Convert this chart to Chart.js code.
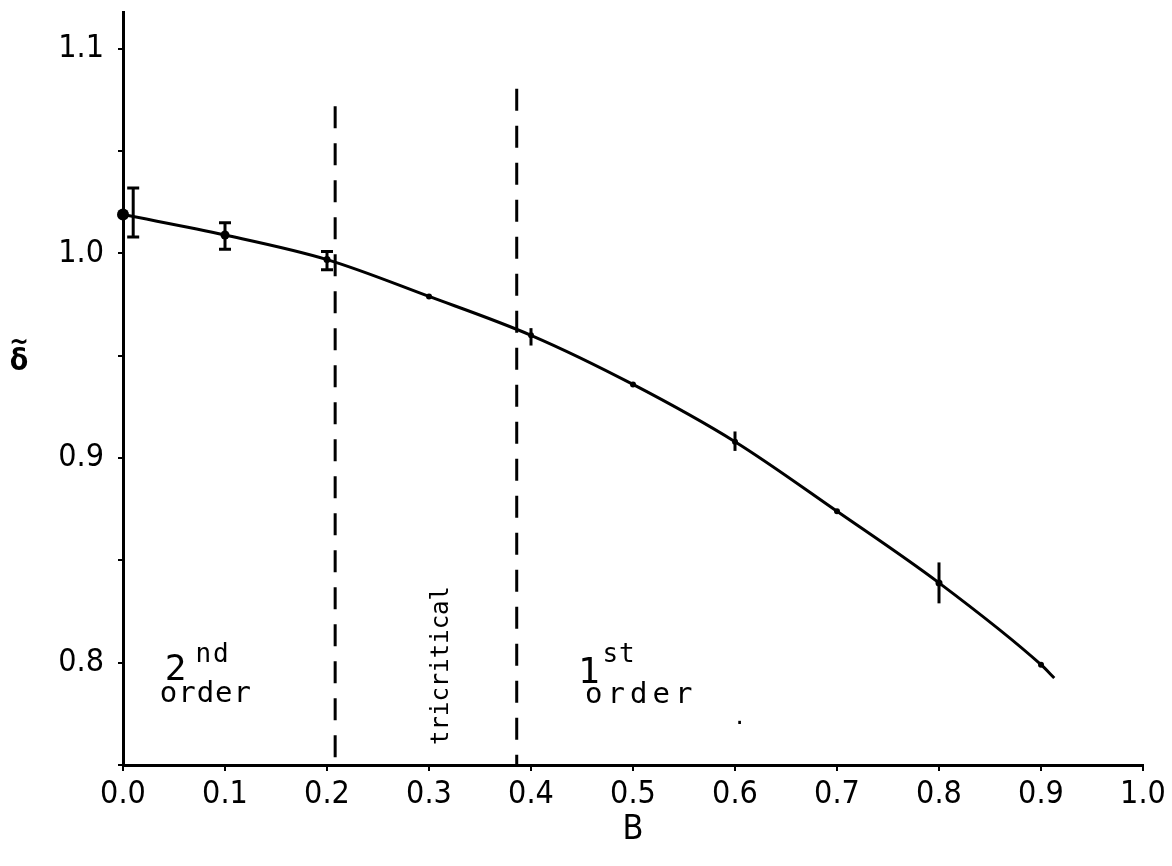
<!DOCTYPE html>
<html>
<head>
<meta charset="utf-8">
<script src="https://cdn.jsdelivr.net/npm/chart.js@4/dist/chart.umd.min.js"></script>
<style>
  html, body { margin: 0; padding: 0; background: #fff; }
  #wrap { width: 1172px; height: 866px; }
</style>
</head>
<body>
<div id="wrap"><canvas id="chart" width="1172" height="866"></canvas></div>
<script>
// measured points (B, sigma~)
const bValues = [0.0, 0.1, 0.2, 0.3, 0.4, 0.5, 0.6, 0.7, 0.8, 0.9]
const sigmaValues = [1.019, 1.009, 0.997, 0.979, 0.960, 0.936, 0.908, 0.874, 0.839, 0.799]
const pointSizes = [6, 4.5, 3.5, 3, 3, 3, 3, 3, 3.5, 3]

// error bars (null = no bar drawn)
const errB = [0.01, 0.1, 0.2, null, 0.4, null, 0.6, null, 0.8, null]
const errLow = [1.008, 1.002, 0.992, null, 0.955, null, 0.9035, null, 0.829, null]
const errHigh = [1.032, 1.015, 1.001, null, 0.9635, null, 0.913, null, 0.849, null]
const errCapped = [true, true, true, false, false, false, false, false, false, false]

// fitted curve
const curveB = [0.0, 0.1, 0.2, 0.3, 0.4, 0.5, 0.6, 0.7, 0.8, 0.9, 0.913]
const curveSigma = [1.019, 1.009, 0.997, 0.979, 0.960, 0.936, 0.908, 0.874, 0.839, 0.799, 0.7925]

// phase boundaries
const boundaryB = [0.208, 0.386]
const boundaryTop = [1.072, 1.0805]

const xTicks = [0.0, 0.1, 0.2, 0.3, 0.4, 0.5, 0.6, 0.7, 0.8, 0.9, 1.0]
const yTicks = [0.75, 0.8, 0.85, 0.9, 0.95, 1.0, 1.05, 1.1]

const tickFont = '"DejaVu Sans Condensed", "DejaVu Sans", sans-serif'
const handFont = '"DejaVu Sans Mono", monospace'

const boundaryDatasets = boundaryB.map((b, i) => ({
    type: "line",
    data: [{ x: b, y: boundaryTop[i] }, { x: b, y: 0.75 }],
    borderColor: "#000",
    borderWidth: 3,
    borderDash: [22, 15],
    pointRadius: 0,
    fill: false,
}))

const extrasPlugin = {
    id: "extras",
    afterDatasetsDraw(chart) {
        const ctx = chart.ctx
        const xs = chart.scales.x
        const ys = chart.scales.y

        // error bars
        ctx.save()
        ctx.strokeStyle = "#000"
        ctx.lineWidth = 3
        errB.forEach((b, i) => {
            if (b === null) return
            const px = xs.getPixelForValue(b)
            const top = ys.getPixelForValue(errHigh[i])
            const bot = ys.getPixelForValue(errLow[i])
            ctx.beginPath()
            ctx.moveTo(px, top)
            ctx.lineTo(px, bot)
            if (errCapped[i]) {
                ctx.moveTo(px - 6, top)
                ctx.lineTo(px + 6, top)
                ctx.moveTo(px - 6, bot)
                ctx.lineTo(px + 6, bot)
            }
            ctx.stroke()
        })
        ctx.restore()

        // handwritten labels
        ctx.save()
        ctx.fillStyle = "#000"
        ctx.textBaseline = "alphabetic"
        const put = (text, b, s, size, spacing) => {
            ctx.font = `${size}px ${handFont}`
            ctx.letterSpacing = spacing || "0px"
            ctx.fillText(text, xs.getPixelForValue(b), ys.getPixelForValue(s))
        }
        put("2", 0.041, 0.7915, 36)
        put("nd", 0.071, 0.8005, 26, "2px")
        put("order", 0.036, 0.7808, 29, "1px")
        put("1", 0.446, 0.790, 36)
        put("st", 0.470, 0.8005, 26, "1px")
        put("order", 0.453, 0.7805, 29, "5px")
        put(".", 0.598, 0.770, 22)

        ctx.save()
        ctx.translate(xs.getPixelForValue(0.319), ys.getPixelForValue(0.7598))
        ctx.rotate(-Math.PI / 2)
        ctx.font = `24px ${handFont}`
        ctx.letterSpacing = "0px"
        ctx.fillText("tricritical", 0, 0)
        ctx.restore()

        // axis titles
        ctx.letterSpacing = "0px"
        ctx.textAlign = "center"
        ctx.textBaseline = "middle"
        ctx.font = `34px ${tickFont}`
        ctx.fillText("B", xs.getPixelForValue(0.5), 830)
        const ly = ys.getPixelForValue(0.95)
        ctx.font = `bold 30px ${tickFont}`
        ctx.fillText("δ", 19, ly + 6)
        ctx.font = `bold 26px ${tickFont}`
        ctx.fillText("~", 19, ly - 13)
        ctx.restore()
    },
}

const ctx = document.getElementById("chart").getContext("2d")
const chart = new Chart(ctx, {
    type: "scatter",
    data: {
        datasets: [
            {
                type: "line",
                data: curveB.map((b, i) => ({ x: b, y: curveSigma[i] })),
                borderColor: "#000",
                borderWidth: 3,
                pointRadius: 0,
                cubicInterpolationMode: "monotone",
                fill: false,
            },
            {
                type: "scatter",
                data: bValues.map((b, i) => ({ x: b, y: sigmaValues[i] })),
                backgroundColor: "#000",
                borderColor: "#000",
                pointRadius: pointSizes,
                pointBorderWidth: 0,
                clip: false,
            },
            ...boundaryDatasets,
        ],
    },
    options: {
        responsive: false,
        animation: false,
        layout: { padding: { top: 12, right: 29, left: 0, bottom: 0 } },
        plugins: {
            legend: { display: false },
            tooltip: { enabled: false },
        },
        scales: {
            x: {
                type: "linear",
                min: 0,
                max: 1,
                afterFit: (scale) => {
                    scale.height = 101
                    scale.paddingLeft = 0
                    scale.paddingRight = 0
                },
                afterBuildTicks: (scale) => {
                    scale.ticks = xTicks.map((v) => ({ value: v }))
                },
                ticks: {
                    color: "#000",
                    font: { family: tickFont, size: 32 },
                    padding: 4,
                    maxRotation: 0,
                    callback: (v) => v.toFixed(1),
                },
                grid: {
                    drawOnChartArea: false,
                    color: "#000",
                    tickLength: 6,
                    lineWidth: 2,
                },
                border: { color: "#000", width: 3 },
            },
            y: {
                type: "linear",
                min: 0.75,
                max: 1.118,
                afterFit: (scale) => {
                    scale.width = 123
                    scale.paddingTop = 0
                    scale.paddingBottom = 0
                },
                afterBuildTicks: (scale) => {
                    scale.ticks = yTicks.map((v) => ({ value: v }))
                },
                ticks: {
                    color: "#000",
                    font: { family: tickFont, size: 32 },
                    padding: 14,
                    callback: (v) => {
                        const r = Math.round(v * 100)
                        return r % 10 === 0 && r !== 70 ? v.toFixed(1) : ""
                    },
                },
                grid: {
                    drawOnChartArea: false,
                    color: "#000",
                    tickLength: 5,
                    lineWidth: 2,
                },
                border: { color: "#000", width: 3 },
            },
        },
    },
    plugins: [extrasPlugin],
})
</script>
</body>
</html>
